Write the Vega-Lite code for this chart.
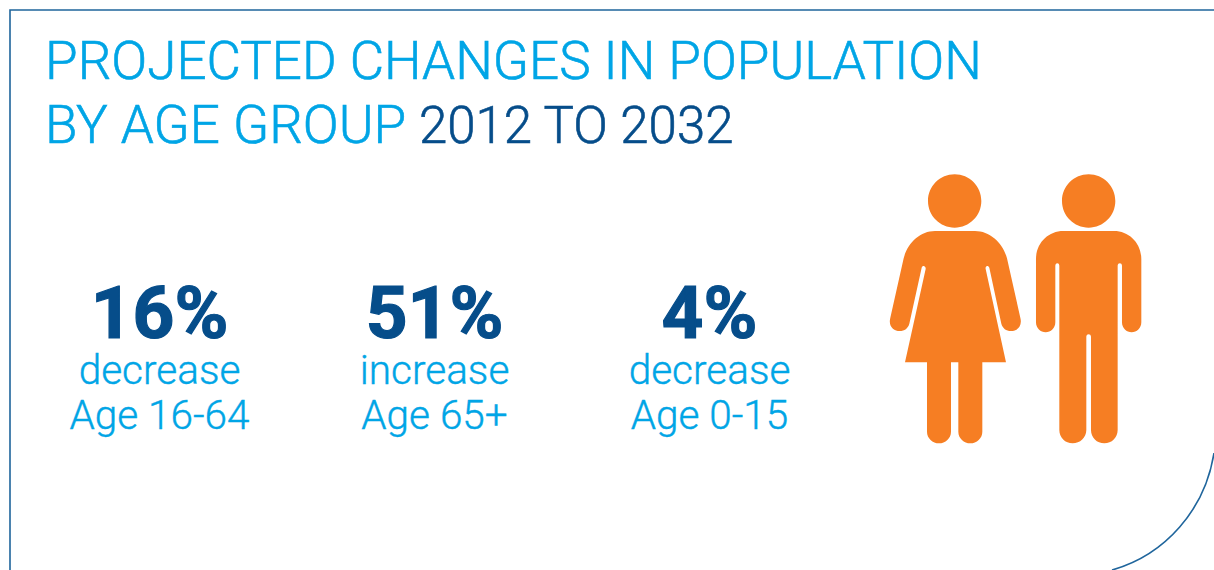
{
"$schema":"https://vega.github.io/schema/vega-lite/v6.json",
"width":1214,"height":570,"padding":0,
"autosize":{"type":"fit","contains":"padding"},
"background":"white",
"view":{"stroke":null},
"config":{"text":{"font":"Roboto"}},
"datasets":{
"stats":[
{"age":"Age 16-64","change":"16%","direction":"decrease"},
{"age":"Age 65+","change":"51%","direction":"increase"},
{"age":"Age 0-15","change":"4%","direction":"decrease"}],
"figures":[{"figure":"woman"},{"figure":"man"}],
"frame":[{"part":"frame"}],
"titleA":[{"t":"PROJECTED CHANGES IN POPULATION"}],
"titleB":[{"t":"BY AGE GROUP"}],
"titleC":[{"t":"2012 TO 2032"}]
},
"layer":[
{"data":{"name":"frame"},
 "mark":{"type":"point","filled":false,"x":0,"y":0,"size":4,"opacity":1,"stroke":"#1f659c","strokeWidth":1.6,"shape":"M10,575 L10,10 L1220,10 M1214,453 C1205,510 1165,555 1112,570"},
 "encoding":{}},
{"data":{"name":"figures"},
 "mark":{"type":"point","filled":true,"opacity":1,"size":0.4444,"color":"#f67e23","y":165},
 "encoding":{
  "x":{"field":"figure","type":"nominal","axis":null,"scale":{"domain":["woman","man"],"range":[880,880],"padding":0}},
  "shape":{"field":"figure","type":"nominal","legend":null,"scale":{"domain":["woman","man"],"range":[
   "M144,108 A80,80 0 1 1 304,108 A80,80 0 1 1 144,108 Z M165,198 L285,198 C330,198 370,235 381,280 L421,458 C428,485 410,498 393,498 C378,498 368,490 364,476 L328,308 C325,300 315,302 317,312 L378,592 L307,592 L307,800 C307,820 290,835 271,835 C252,835 235,820 235,800 L235,592 L213,592 L213,800 C213,820 196,835 177,835 C158,835 141,820 141,800 L141,592 L75,592 L137,312 C138,302 127,300 125,308 L88,476 C84,490 74,498 59,498 C42,498 24,485 31,458 L71,280 C82,235 120,198 165,198 Z",
   "M546,108 A80,80 0 1 1 706,108 A80,80 0 1 1 546,108 Z M550,198 L702,198 C748,198 784,235 784,282 L784,472 C784,490 770,502 755,502 C740,502 726,490 726,472 L726,302 C726,292 713,292 713,302 L713,795 C713,818 695,835 673,835 C651,835 633,818 633,795 L633,515 C633,505 619,505 619,515 L619,795 C619,818 600,835 578,835 C556,835 538,818 538,795 L538,302 C538,292 526,292 526,302 L526,472 C526,490 512,502 497,502 C482,502 468,490 468,472 L468,282 C468,235 504,198 550,198 Z"
  ]}}
 }},
{"data":{"name":"titleA"},
 "mark":{"type":"text","x":45,"y":79,"align":"left","baseline":"alphabetic","fontSize":53,"fontWeight":300,"color":"#00a5e6","stroke":"#00a5e6","strokeWidth":0.6},
 "encoding":{"text":{"field":"t"}}},
{"data":{"name":"titleB"},
 "mark":{"type":"text","x":45,"y":143,"align":"left","baseline":"alphabetic","fontSize":53,"fontWeight":300,"color":"#00a5e6","stroke":"#00a5e6","strokeWidth":0.6},
 "encoding":{"text":{"field":"t"}}},
{"data":{"name":"titleC"},
 "mark":{"type":"text","x":419,"y":143,"align":"left","baseline":"alphabetic","fontSize":51,"fontWeight":300,"color":"#064d8a","stroke":"#064d8a","strokeWidth":0.6},
 "encoding":{"text":{"field":"t"}}},
{"data":{"name":"stats"},
 "mark":{"type":"text","y":338,"align":"center","baseline":"alphabetic","fontSize":73,"fontWeight":700,"color":"#064d8a","stroke":"#064d8a","strokeWidth":1.2},
 "encoding":{"x":{"field":"age","type":"nominal","sort":null,"axis":null,"scale":{"domain":["Age 16-64","Age 65+","Age 0-15"],"range":[159.5,709.5],"padding":0}},"text":{"field":"change"}}},
{"data":{"name":"stats"},
 "mark":{"type":"text","y":384,"align":"center","baseline":"alphabetic","fontSize":40.5,"fontWeight":300,"color":"#00a5e6","stroke":"#00a5e6","strokeWidth":0.4},
 "encoding":{"x":{"field":"age","type":"nominal","sort":null,"axis":null,"scale":{"domain":["Age 16-64","Age 65+","Age 0-15"],"range":[159.5,709.5],"padding":0}},"text":{"field":"direction"}}},
{"data":{"name":"stats"},
 "mark":{"type":"text","y":429,"align":"center","baseline":"alphabetic","fontSize":40.5,"fontWeight":300,"color":"#00a5e6","stroke":"#00a5e6","strokeWidth":0.4},
 "encoding":{"x":{"field":"age","type":"nominal","sort":null,"axis":null,"scale":{"domain":["Age 16-64","Age 65+","Age 0-15"],"range":[159.5,709.5],"padding":0}},"text":{"field":"age"}}}
],
"resolve":{"scale":{"x":"independent","shape":"independent"}}
}
